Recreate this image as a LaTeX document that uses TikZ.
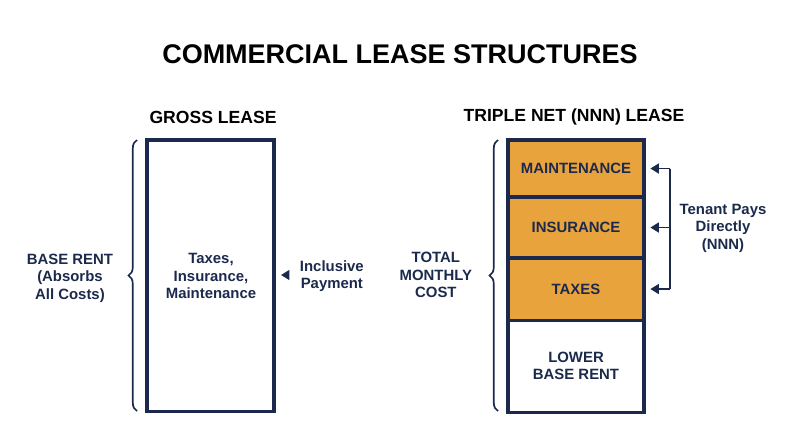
\documentclass[tikz,border=0pt]{standalone}
\usepackage{fontspec}
\setmainfont{Liberation Sans}
\usetikzlibrary{arrows.meta,decorations.pathreplacing}

\definecolor{navy}{HTML}{1B2A4C}
\definecolor{amber}{HTML}{E9A33D}

\tikzset{
  seg/.style={draw=navy, line width=2.2pt, minimum width=3.4cm, inner sep=0pt, outer sep=0pt,
    font=\bfseries\fontsize{10.6}{12.4}\selectfont, text=navy, align=center},
  lbl/.style={font=\bfseries\fontsize{10.6}{12.4}\selectfont, text=navy, align=center},
  head/.style={font=\bfseries\fontsize{12.5}{14}\selectfont, text=black},
  bracket/.style={navy, line width=1.2pt, decorate,
    decoration={brace, amplitude=6pt}},
  pay/.style={navy, line width=1.3pt, -{Triangle[width=7pt,length=6pt]}}
}

\begin{document}
\begin{tikzpicture}[x=0.025cm, y=-0.025cm]

  \useasboundingbox (0,0) rectangle (800,447);

  \node[font=\bfseries\fontsize{19.2}{22}\selectfont] (title) at (400,54) {COMMERCIAL LEASE STRUCTURES};

  % gross lease
  \node[head] (gross) at (213,117) {GROSS LEASE};
  \node[seg, minimum width=3.175cm, minimum height=6.775cm, anchor=north west] (grossbox) at (147,140) {};
  \node[lbl] (grosstxt) at (211,276) {Taxes,\\Insurance,\\Maintenance};
  \draw[bracket] (137,411) -- (137,140);
  \node[lbl, anchor=east] (baserent) at (118,278) {BASE RENT\\(Absorbs\\All Costs)};
  \coordinate (incl) at (288,275);
  \draw[pay] (incl) -- ++(-7,0);
  \node[lbl, anchor=west] (inclusive) at (295,276) {Inclusive\\Payment};

  % triple net lease
  \node[head] (nnn) at (574,117) {TRIPLE NET (NNN) LEASE};
  \node[seg, fill=amber, minimum height=1.425cm, anchor=north west] (maint) at (508,140) {MAINTENANCE};
  \node[seg, fill=amber, minimum height=1.525cm, anchor=north] (ins) at (maint.south) {INSURANCE};
  \node[seg, fill=amber, minimum height=1.55cm, anchor=north] (tax) at (ins.south) {TAXES};
  \node[seg, fill=white, minimum height=2.3cm, anchor=north] (base) at (tax.south) {LOWER\\BASE RENT};

  \draw[bracket] (498,411) -- (498,140);
  \node[lbl, anchor=east] (total) at (477,275) {TOTAL\\MONTHLY\\COST};

  \coordinate (rail) at (670,0);
  \draw[navy, line width=1.3pt] (rail |- maint) -- (rail |- tax);
  \draw[pay] (rail |- maint) -- ([xshift=4.5pt]maint.east);
  \draw[pay] (rail |- ins) -- ([xshift=4.5pt]ins.east);
  \draw[pay] (rail |- tax) -- ([xshift=4.5pt]tax.east);
  \node[lbl] (tenant) at (723,228) {Tenant Pays\\Directly\\(NNN)};

\end{tikzpicture}
\end{document}
